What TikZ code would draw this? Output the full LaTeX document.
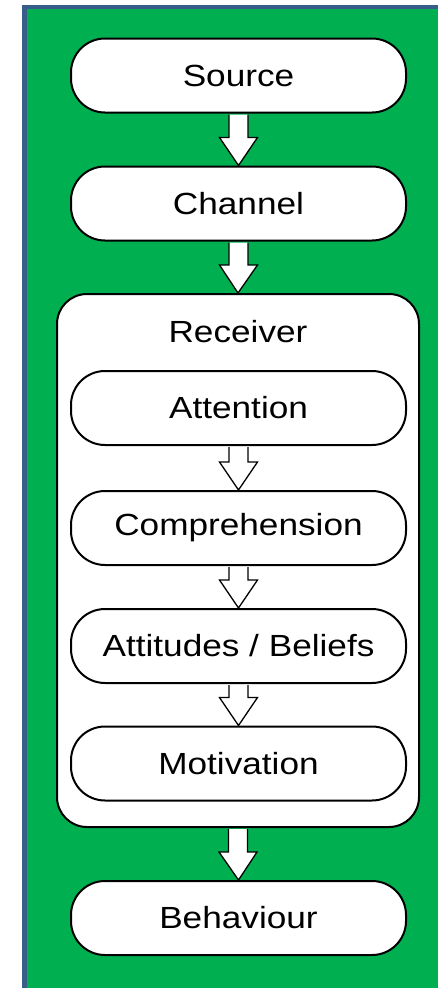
\documentclass[tikz,border=0pt]{standalone}
\usepackage{fontspec}
\setmainfont{Liberation Sans}
\usetikzlibrary{calc}
\definecolor{bggreen}{HTML}{00B050}
\definecolor{frameblue}{HTML}{385D8A}
\newcommand\sx[1]{\scalebox{1.15}[1]{#1}}
\tikzset{
  pill/.style={draw=black, line width=2pt, fill=white, rounded corners=34pt,
    minimum width=335pt, minimum height=74pt, inner sep=0pt,
    font=\fontsize{30.6}{32}\selectfont},
  container/.style={draw=black, line width=2pt, fill=white, rounded corners=30pt,
    minimum width=362pt, minimum height=533pt, inner sep=0pt},
  label/.style={inner sep=0pt, font=\fontsize{30.6}{32}\selectfont},
  barrow/.style={draw=black, line width=1.3pt, fill=white, line join=miter},
}
\newcommand\blockarrow[2]{%
  \draw[barrow] let \p1=(#1.south), \p2=(#2.north) in
    (\x1-9.5pt,\y1-1pt) -- (\x1-9.5pt,\y2+28pt) -- (\x1-19pt,\y2+28pt) --
    (\x2,\y2) -- (\x1+19pt,\y2+28pt) -- (\x1+9.5pt,\y2+28pt) -- (\x1+9.5pt,\y1-1pt);}
\begin{document}
\begin{tikzpicture}[x=1pt,y=-1pt]
\useasboundingbox (0,0) rectangle (438,988);
\fill[white] (0,0) rectangle (438,988);
\fill[bggreen] (24,7) rectangle (445,995);
\draw[frameblue, line width=4.7pt] (445,7) -- (24.3,7) -- (24.3,995);
\node[pill] (src) at (238.5,75.5) {\sx{Source}};
\node[pill] (chn) at (238.5,203.5) {\sx{Channel}};
\node[container] (rcv) at (238,560.5) {};
\node[label] (rcvl) at (238,332) {\sx{Receiver}};
\node[pill] (att) at (238.5,408) {\sx{Attention}};
\node[pill] (cmp) at (238.5,528) {\sx{Comprehension}};
\node[pill] (ab) at (238.5,646) {\sx{Attitudes / Beliefs}};
\node[pill] (mot) at (238.5,763.5) {\sx{Motivation}};
\node[pill] (beh) at (238.5,918) {\sx{Behaviour}};
\blockarrow{src}{chn}
\blockarrow{chn}{rcv}
\blockarrow{att}{cmp}
\blockarrow{cmp}{ab}
\blockarrow{ab}{mot}
\blockarrow{rcv}{beh}
\end{tikzpicture}
\end{document}
